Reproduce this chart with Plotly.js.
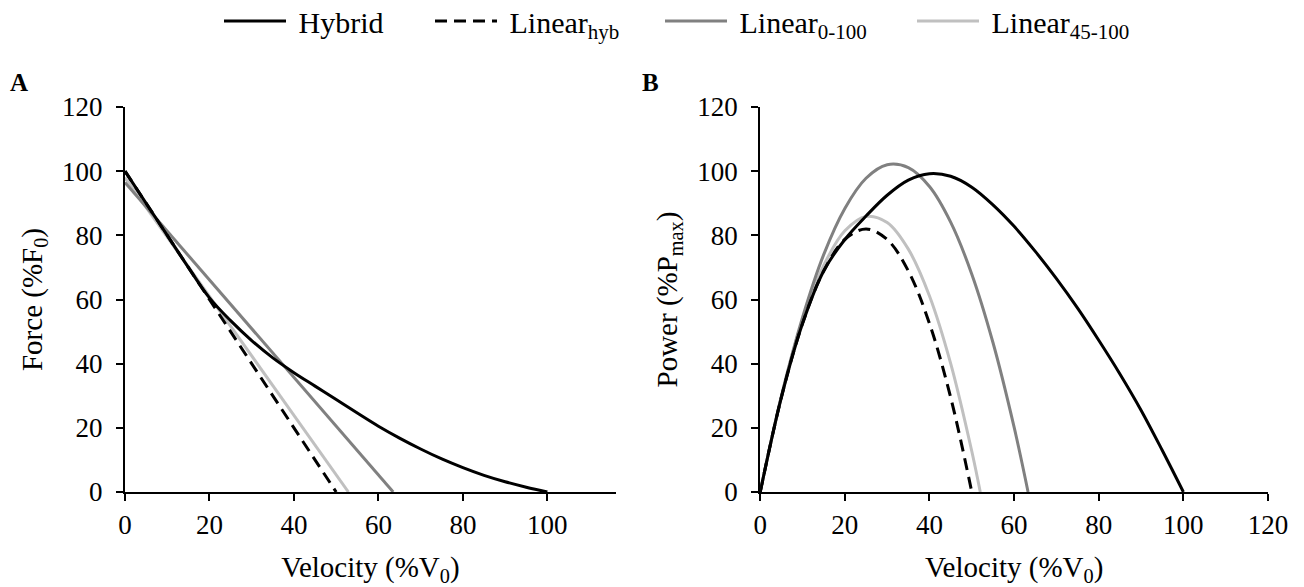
<!DOCTYPE html>
<html>
<head>
<meta charset="utf-8">
<script src="https://cdn.plot.ly/plotly-3.0.1.min.js"></script>
<style>html,body{margin:0;padding:0;background:#fff;}#chart{width:1304px;height:587px;}</style>
</head>
<body>
<div id="chart"></div>
<script>
// ---- Data ----
const seriesNames = ['Hybrid', 'Linear<sub>hyb</sub>', 'Linear<sub>0-100</sub>', 'Linear<sub>45-100</sub>'];

// Panel A: force-velocity
const hybridV = [0,5,10,15,20,25,30,35,40,45,50,55,60,65,70,75,80,85,90,95,100];
const hybridF = [100,90,80,70,60.5,53.4,47.2,41.8,37.2,33,28.8,24.6,20.5,16.8,13.4,10.3,7.6,5.2,3.2,1.5,0];
const linHybV = [0, 50];
const linHybF = [100, 0];
const lin0100V = [0, 63.5];
const lin0100F = [96.5, 0];
const lin45100V = [0, 52.9];
const lin45100F = [98, 0];

// Panel B: power-velocity
const hybridPV = [0,5,10,15,20,25,30,35,40,45,50,55,60,65,70,75,80,85,90,95,100];
const hybridP = [0,29.5,52.5,68.9,78.7,86,92.5,97.2,99.2,98.4,95,89.5,82.8,75,66.5,57.3,47.3,36.8,25.5,13,0];
const linHybPV = [0,5,10,15,20,25,30,35,40,45,50];
const linHybP = [0,29.5,52.5,68.9,78.7,82,78.7,68.9,52.5,29.5,0];
const lin0100PV = [0,5,10,15,20,25,30,35,40,45,50,55,60,63.3];
const lin0100P = [0,29.8,54.4,74.0,88.4,97.8,102.0,101.1,95.2,84.1,67.9,46.6,20.2,0];
const lin45100PV = [0,5,10,15,20,25,30,35,40,45,50,52];
const lin45100P = [0,29.9,53.4,70.6,81.4,85.9,84.0,75.7,61.1,40.1,12.7,0];

const xTitle = 'Velocity (%V<sub>0</sub>)';
const yTitleA = 'Force (%F<sub>0</sub>)';
const yTitleB = 'Power (%P<sub>max</sub>)';
const panelLabels = ['A', 'B'];

// ---- Styles ----
const colors = ['#000000', '#000000', '#808080', '#c0c0c0'];
const dashes = ['solid', '12px,7px', 'solid', 'solid'];
const legendIds = ['legend', 'legend2', 'legend3', 'legend4'];
const legendLeft = [219, 430, 660, 912];
const LW = 3;
const fontFam = 'Liberation Serif';

function tr(x, y, i, xa, ya, show) {
  return {
    x: x, y: y, type: 'scatter', mode: 'lines',
    name: '\u00a0' + seriesNames[i], showlegend: show, legend: legendIds[i],
    line: {color: colors[i], width: LW, dash: dashes[i], shape: 'spline', smoothing: 1},
    xaxis: xa, yaxis: ya, hoverinfo: 'skip'
  };
}

const data = [
  tr(lin45100V, lin45100F, 3, 'x', 'y', true),
  tr(lin0100V, lin0100F, 2, 'x', 'y', true),
  tr(linHybV, linHybF, 1, 'x', 'y', true),
  tr(hybridV, hybridF, 0, 'x', 'y', true),
  tr(lin45100PV, lin45100P, 3, 'x2', 'y2', false),
  tr(lin0100PV, lin0100P, 2, 'x2', 'y2', false),
  tr(linHybPV, linHybP, 1, 'x2', 'y2', false),
  tr(hybridPV, hybridP, 0, 'x2', 'y2', false)
];

const axisCommon = {
  showgrid: false, zeroline: false, showline: true, linecolor: '#000', linewidth: 2,
  ticks: 'outside', ticklen: 7, tickwidth: 2, tickcolor: '#000',
  tickfont: {family: fontFam, size: 27, color: '#000'},
  dtick: 20, tick0: 0, fixedrange: true
};
const titleFont = {family: fontFam, size: 29, color: '#000'};

const L = 124.5, R = 36, T = 107, B = 95, W = 1304, H = 587;
const PW = W - L - R;
function legendBox(i) {
  return {
    orientation: 'h', xref: 'container', yref: 'container',
    x: legendLeft[i] / W, y: 1 - 21 / H, xanchor: 'left', yanchor: 'middle',
    font: {family: fontFam, size: 30, color: '#000'},
    itemwidth: 62, bgcolor: 'rgba(0,0,0,0)', borderwidth: 0
  };
}
const layout = {
  width: W, height: H,
  margin: {l: L, r: R, t: T, b: B, pad: 0},
  paper_bgcolor: '#fff', plot_bgcolor: '#fff',
  font: {family: fontFam, color: '#000'},
  showlegend: true,
  legend: legendBox(0), legend2: legendBox(1), legend3: legendBox(2), legend4: legendBox(3),
  xaxis: Object.assign({}, axisCommon, {
    domain: [0, (615.5 - L) / PW], range: [0, 116.2], anchor: 'y',
    title: {text: xTitle, font: titleFont, standoff: 24},
    ticklabelstandoff: 1
  }),
  yaxis: Object.assign({}, axisCommon, {
    domain: [0, 1], range: [0, 120], anchor: 'x',
    title: {text: yTitleA, font: titleFont, standoff: 11},
    ticklabelstandoff: 8
  }),
  xaxis2: Object.assign({}, axisCommon, {
    domain: [(760 - L) / PW, 1], range: [0, 120], anchor: 'y2',
    title: {text: xTitle, font: titleFont, standoff: 24},
    ticklabelstandoff: 1
  }),
  yaxis2: Object.assign({}, axisCommon, {
    domain: [0, 1], range: [0, 120], anchor: 'x2',
    title: {text: yTitleB, font: titleFont, standoff: 11},
    ticklabelstandoff: 8
  }),
  annotations: [
    {text: '<b>' + panelLabels[0] + '</b>', xref: 'paper', yref: 'paper',
     x: (7 - L) / PW, y: (492 - 82.5) / 385, xanchor: 'left', yanchor: 'middle',
     showarrow: false, font: {family: fontFam, size: 25, color: '#000'}},
    {text: '<b>' + panelLabels[1] + '</b>', xref: 'paper', yref: 'paper',
     x: (640 - L) / PW, y: (492 - 82) / 385, xanchor: 'left', yanchor: 'middle',
     showarrow: false, font: {family: fontFam, size: 25, color: '#000'}}
  ]
};

Plotly.newPlot('chart', data, layout, {displayModeBar: false, staticPlot: true});
</script>
</body>
</html>
